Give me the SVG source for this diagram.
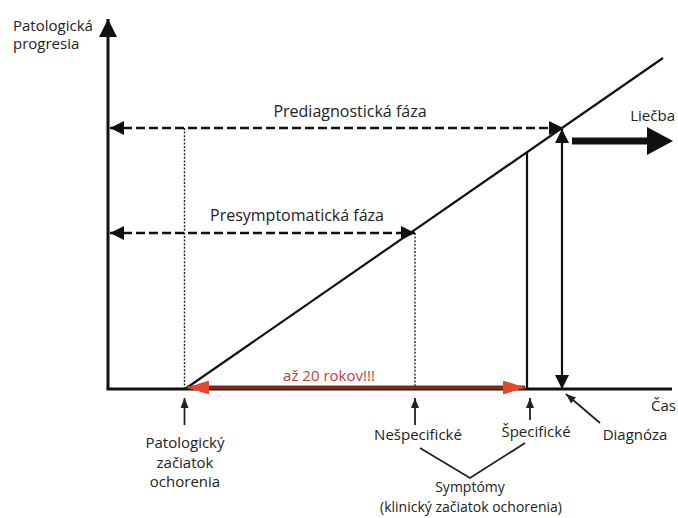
<svg xmlns="http://www.w3.org/2000/svg" width="678" height="518" viewBox="0 0 678 518">
<style>
text{font-family:"Open Sans","Liberation Sans",sans-serif;font-size:15px;fill:#222}
.c{text-anchor:middle}
.e{text-anchor:end}
.big{font-size:16px}
.sm{font-size:14px}
.red{fill:#c2413a}
.ax{stroke:#111;stroke-width:3;fill:none}
.dash{stroke:#111;stroke-width:2.6;stroke-dasharray:9 4;fill:none}
.dot{stroke:#222;stroke-width:1.4;stroke-dasharray:2 1.6;fill:none}
.ln{stroke:#111;stroke-width:2.2;fill:none}
.thin{stroke:#222;stroke-width:1.8;fill:none}
</style>
<defs>
<marker id="ah" viewBox="0 0 14 14" markerWidth="14" markerHeight="14" refX="14" refY="7" orient="auto-start-reverse" markerUnits="userSpaceOnUse"><path d="M0,0 L14,7 L0,14 z" fill="#111"/></marker>
<marker id="ahs" viewBox="0 0 10 8" markerWidth="10" markerHeight="8" refX="10" refY="4" orient="auto" markerUnits="userSpaceOnUse"><path d="M0,0 L10,4 L0,8 z" fill="#222"/></marker>
<marker id="ahb" viewBox="0 0 18 18" markerWidth="18" markerHeight="18" refX="18" refY="9" orient="auto" markerUnits="userSpaceOnUse"><path d="M0,0 L18,9 L0,18 z" fill="#111"/></marker>
<marker id="ahr" viewBox="0 0 22 14" markerWidth="22" markerHeight="14" refX="22" refY="7" orient="auto-start-reverse" markerUnits="userSpaceOnUse"><path d="M0,0 L22,7 L0,14 z" fill="#e4472c"/></marker>
</defs>
<g id="connectors">
<line class="ax" x1="108" y1="389" x2="108" y2="19" marker-end="url(#ahb)"/>
<line class="ax" x1="106.5" y1="389" x2="672" y2="389"/>
<line class="ln" x1="185" y1="389" x2="663" y2="58" stroke-width="2.6"/>
<line class="dot" x1="184.5" y1="128" x2="184.5" y2="389"/>
<line class="dot" x1="415" y1="233" x2="415" y2="389"/>
<line class="ln" x1="527" y1="152" x2="527" y2="389"/>
<line class="dash" x1="110" y1="128" x2="563" y2="128" marker-start="url(#ah)" marker-end="url(#ah)"/>
<line class="dash" x1="110" y1="233" x2="415" y2="233" marker-start="url(#ah)" marker-end="url(#ah)"/>
<line class="ln" x1="562" y1="129" x2="562" y2="389" marker-start="url(#ah)" marker-end="url(#ah)"/>
<line x1="572" y1="141" x2="650" y2="141" stroke="#111" stroke-width="7"/>
<polygon points="647,127 673,141 647,155" fill="#111"/>
<line x1="187" y1="387.5" x2="525" y2="387.5" stroke="#7c2a1c" stroke-width="4" marker-start="url(#ahr)" marker-end="url(#ahr)"/>
<line class="thin" x1="184.5" y1="425" x2="184.5" y2="398" marker-end="url(#ahs)"/>
<line class="thin" x1="415" y1="425" x2="415" y2="398" marker-end="url(#ahs)"/>
<line class="thin" x1="530" y1="420" x2="530" y2="398" marker-end="url(#ahs)"/>
<line class="thin" x1="600" y1="423" x2="566" y2="394" marker-end="url(#ahs)"/>
<polyline class="thin" points="420,448 470,478 525,443"/>
</g>
<g id="y-axis-label"><text x="13" y="31">Patologická</text><text x="13" y="49">progresia</text></g>
<g id="prediagnostic"><text class="c big" x="350" y="117">Prediagnostická fáza</text></g>
<g id="presymptomatic"><text class="c big" x="297" y="221">Presymptomatická fáza</text></g>
<g id="treatment"><text class="e" x="675" y="121">Liečba</text></g>
<g id="duration"><text class="c red" x="329" y="381">až 20 rokov!!!</text></g>
<g id="time"><text class="e" x="676" y="411">Čas</text></g>
<g id="onset"><text class="c" x="185" y="448">Patologický</text><text class="c" x="185" y="468">začiatok</text><text class="c" x="185" y="487">ochorenia</text></g>
<g id="nonspecific"><text class="c" x="418" y="440">Nešpecifické</text></g>
<g id="specific"><text class="c" x="536" y="437">Špecifické</text></g>
<g id="diagnosis"><text class="c" x="635" y="440">Diagnóza</text></g>
<g id="symptoms"><text class="c sm" x="470" y="492">Symptómy</text><text class="c sm" x="471" y="512">(klinický začiatok ochorenia)</text></g>
</svg>
